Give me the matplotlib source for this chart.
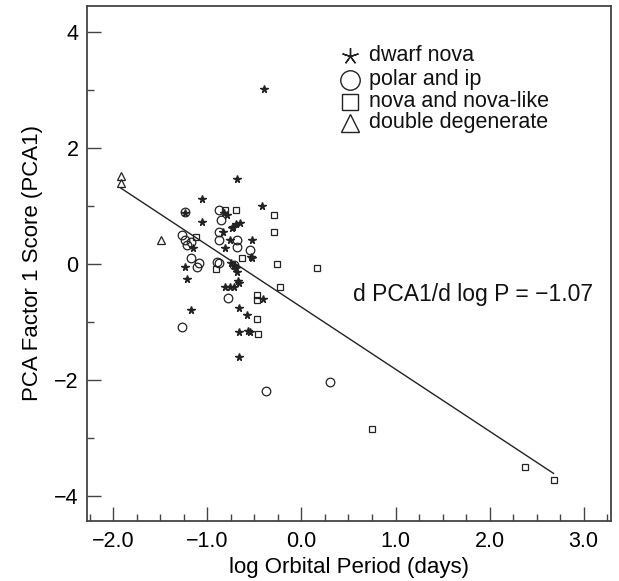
import matplotlib
matplotlib.use('Agg')
import matplotlib.pyplot as plt
from matplotlib.ticker import MultipleLocator

plt.rcParams['font.family'] = ['Liberation Sans', 'DejaVu Sans']

# dwarf nova
dn_logp = [-0.40, -1.06, -0.68, -1.06, -0.42, -0.82, -0.79, -0.65, -0.74, -0.83,
           -0.76, -0.53, -0.53, -0.54, -0.81, -0.72, -0.75, -0.70, -0.69, -0.67,
           -0.81, -0.76, -0.72, -0.66, -0.41, -0.66, -0.58, -0.66, -0.57, -0.55,
           -0.66, -1.15, -1.24, -1.22, -0.73, -1.17, -0.70, -1.24]
dn_pca = [3.01, 1.12, 1.46, 0.73, 1.00, 0.88, 0.84, 0.70, 0.62, 0.56,
          0.41, 0.41, 0.11, 0.12, 0.27, -0.03, 0.02, -0.06, -0.13, -0.30,
          -0.40, -0.40, -0.40, -0.33, -0.60, -0.75, -0.88, -1.17, -1.16, -1.17,
          -1.61, 0.28, -0.05, -0.25, 0.64, -0.80, 0.69, 0.88]

# polar and ip
pol_logp = [-1.24, -0.88, -0.86, -0.88, -0.88, -0.69, -0.69, -0.55, -0.90, -0.88,
            -0.72, -0.78, -1.27, -1.24, -1.17, -1.22, -1.17, -1.09, -1.11, -1.27,
            -0.38, 0.30]
pol_pca = [0.90, 0.94, 0.76, 0.56, 0.41, 0.41, 0.30, 0.24, 0.04, 0.02,
           -0.02, -0.59, 0.50, 0.41, 0.385, 0.33, 0.10, 0.01, -0.05, -1.08,
           -2.19, -2.03]

# nova and nova-like
nl_logp = [-0.81, -0.70, -0.29, -0.29, -0.26, -0.23, 0.16, -0.63, -0.91, -1.12,
           -0.47, -0.47, -0.47, -0.46, 0.75, 2.38, 2.68]
nl_pca = [0.94, 0.93, 0.845, 0.56, 0.0, -0.40, -0.075, 0.10, -0.09, 0.47,
          -0.53, -0.62, -0.94, -1.20, -2.85, -3.50, -3.72]

# double degenerate
dd_logp = [-1.92, -1.92, -1.49]
dd_pca = [1.52, 1.40, 0.41]

fit_x = [-1.92, 2.68]
fit_y = [1.31, -3.61]

legend_labels = ['dwarf nova', 'polar and ip', 'nova and nova-like', 'double degenerate']

ink = '#222222'

fig = plt.figure(figsize=(6.19, 5.81), dpi=100)
ax = fig.add_axes([0.1405, 0.1033, 0.8465, 0.8864])

ax.plot(fit_x, fit_y, color=ink, lw=1.0, zorder=1)
ax.plot(dn_logp, dn_pca, ls='none', marker='*', ms=5.5, color=ink, mec=ink, zorder=3)
ax.plot(pol_logp, pol_pca, ls='none', marker='o', ms=6.2, mfc='none', mec=ink, mew=0.9, zorder=2)
ax.plot(nl_logp, nl_pca, ls='none', marker='s', ms=4.6, mfc='none', mec=ink, mew=0.9, zorder=2)
ax.plot(dd_logp, dd_pca, ls='none', marker='^', ms=5.5, mfc='none', mec=ink, mew=0.9, zorder=2)

ax.text(0.55, -0.52, 'd PCA1/d log P = \u22121.07', fontsize=16.5, va='center', color='#111111')

# legend drawn by hand so the rows sit as tight as in the original
leg_markers = [((5, 2, 0), 12, 'none'), ('o', 14, 'none'), ('s', 11, 'none'), ('^', 13, 'none')]
row_y = [0.903, 0.857, 0.814, 0.773]
for (mk, ms, fc), lab, yy in zip(leg_markers, legend_labels, row_y):
    ax.plot([0.502], [yy], transform=ax.transAxes, ls='none', marker=mk, ms=ms,
            mfc=fc, mec=ink, mew=1.0, clip_on=False)
    ax.text(0.538, yy, lab, transform=ax.transAxes, fontsize=15.5, va='center',
            color='#111111')

ax.set_xlim(-2.28, 3.29)
ax.set_ylim(-4.43, 4.45)
ax.xaxis.set_minor_locator(MultipleLocator(0.25))
ax.yaxis.set_minor_locator(MultipleLocator(1))
ax.set_xticks([-2, -1, 0, 1, 2, 3])
ax.set_xticklabels(['\u22122.0', '\u22121.0', '0.0', '1.0', '2.0', '3.0'])
ax.set_yticks([-4, -2, 0, 2, 4])
ax.set_yticklabels(['\u22124', '\u22122', '0', '2', '4'])
ax.tick_params(which='major', direction='in', length=10, width=1.0, labelsize=15.5, color='#444444')
ax.tick_params(which='minor', direction='in', length=5, width=1.0, color='#444444')
ax.tick_params(axis='x', pad=7)
ax.tick_params(axis='y', pad=6)

for s in ax.spines.values():
    s.set_linewidth(1.3)
    s.set_color('#444444')

ax.set_xlabel('log Orbital Period (days)', fontsize=16, labelpad=4)
ax.set_ylabel('PCA Factor 1 Score (PCA1)', fontsize=16, labelpad=8)

fig.savefig('out.png', dpi=100)
